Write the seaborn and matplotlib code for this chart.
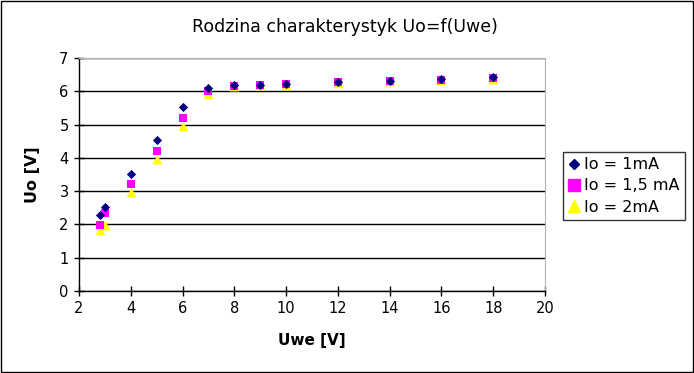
import matplotlib
matplotlib.use("Agg")
import matplotlib.pyplot as plt
import seaborn as sns
from matplotlib.lines import Line2D

# napiecie wejsciowe
uwe = [2.8, 3, 4, 5, 6, 7, 8, 9, 10, 12, 14, 16, 18]
# napiecie wyjsciowe dla kolejnych pradow
uo_1ma = [2.27, 2.53, 3.51, 4.53, 5.53, 6.1, 6.18, 6.2, 6.22, 6.28, 6.32, 6.36, 6.42]
uo_15ma = [1.98, 2.34, 3.21, 4.21, 5.2, 6.0, 6.17, 6.19, 6.22, 6.27, 6.31, 6.35, 6.4]
uo_2ma = [1.83, 1.98, 2.97, 3.96, 4.96, 5.92, 6.15, 6.18, 6.2, 6.25, 6.3, 6.34, 6.38]

labels = ["Io = 1mA", "Io = 1,5 mA", "Io = 2mA"]

sns.set_style("white")
plt.rcParams['font.family'] = ['DejaVu Sans']
plt.rcParams['text.color'] = 'black'
plt.rcParams['axes.labelcolor'] = 'black'
plt.rcParams['xtick.color'] = 'black'
plt.rcParams['ytick.color'] = 'black'

fig = plt.figure(figsize=(6.94, 3.73), dpi=100)
ax = fig.add_axes([79/694, 1 - 291/373, (545-79)/694, (291-58)/373])

# rysujemy od tylu: trojkaty, kwadraty, romby
sns.scatterplot(x=uwe, y=uo_2ma, ax=ax, marker="^", s=50, color="#ffff00", linewidth=0, zorder=3)
sns.scatterplot(x=uwe, y=uo_15ma, ax=ax, marker="s", s=40, color="#ff00ff", linewidth=0, zorder=4)
sns.scatterplot(x=uwe, y=uo_1ma, ax=ax, marker="D", s=22, color="#000080", linewidth=0, zorder=5)

ax.set_xlim(2, 20)
ax.set_ylim(0, 7)
ax.set_xticks(range(2, 21, 2))
ax.set_yticks(range(0, 8))
ax.yaxis.grid(True, color="black", linewidth=1)
ax.xaxis.grid(False)
ax.set_axisbelow(True)
for s in ["top", "right"]:
    ax.spines[s].set_color("#b3b3b3")
for s in ["left", "bottom"]:
    ax.spines[s].set_color("black")
    ax.spines[s].set_linewidth(1)
ax.tick_params(axis="both", direction="inout", length=7, width=1, color="black",
               labelsize=10.5, labelcolor="black", bottom=True, left=True, pad=4)

ax.set_xlabel("Uwe [V]", fontsize=11, fontweight="bold", labelpad=12, color="black")
ax.set_ylabel("Uo [V]", fontsize=11.5, fontweight="bold", labelpad=14, color="black")
fig.text(345/694, 1 - 27/373, "Rodzina charakterystyk Uo=f(Uwe)", ha="center", va="center",
         fontsize=12.5, color="black")

handles = [
    Line2D([], [], marker="D", color="#000080", linestyle="", markersize=5),
    Line2D([], [], marker="s", color="#ff00ff", linestyle="", markersize=8),
    Line2D([], [], marker="^", color="#ffff00", linestyle="", markersize=8),
]
leg = fig.legend(handles, labels, loc="center left", bbox_to_anchor=(563/694, 1 - 186/373),
                 frameon=True, fancybox=False, edgecolor="black", fontsize=11.5,
                 handlelength=0.7, handletextpad=0.25, borderpad=0.35, labelspacing=0.4,
                 borderaxespad=0, labelcolor="black")
leg.get_frame().set_linewidth(1)

fig.patches.append(plt.Rectangle((0.001, 0.002), 0.997, 0.996, transform=fig.transFigure,
                                 fill=False, edgecolor="black", linewidth=1))

fig.savefig("out.png", dpi=100)
